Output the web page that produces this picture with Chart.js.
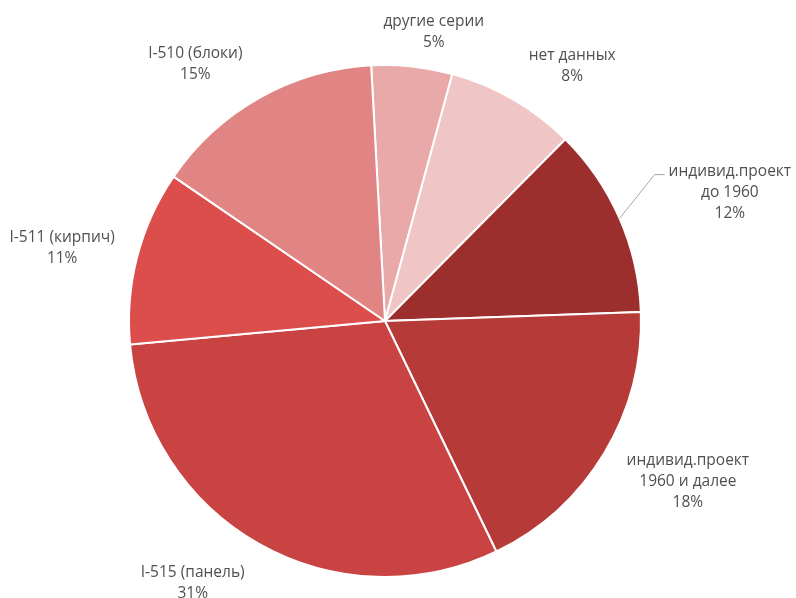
<!DOCTYPE html>
<html>
<head>
<meta charset="utf-8">
<script src="https://cdn.jsdelivr.net/npm/chart.js@4"></script>
<style>
  html, body { margin: 0; padding: 0; background: #ffffff; }
  #wrap { width: 796px; height: 598px; }
</style>
</head>
<body>
<div id="wrap"><canvas id="c" width="796" height="598"></canvas></div>
<script>
// ---- data ----
const categories = [
  ["другие серии"],
  ["нет данных"],
  ["индивид.проект", "до 1960"],
  ["индивид.проект", "1960 и далее"],
  ["I-515 (панель)"],
  ["I-511 (кирпич)"],
  ["I-510 (блоки)"]
];
const shares = [5.1, 8.2, 12.0, 18.4, 30.7, 11.0, 14.6];

// ---- styling / layout ----
const sliceColors = ["#E8A9A8", "#EFC5C5", "#9C2F2D", "#B63B38", "#C84341", "#DC4E4C", "#E08583"];
// label placement relative to each slice's mid angle: [angle offset (deg), distance from centre (px)]
const labelPlacement = [[3.5, 293], [6.3, 316], [3.2, 368], [-3.1, 343], [6.8, 325], [-1.8, 331], [-7.1, 319]];
const leaderLines = [false, false, true, false, false, false, false];

const labelPlugin = {
  id: 'sliceLabels',
  afterDatasetsDraw(chart) {
    const ctx = chart.ctx;
    const meta = chart.getDatasetMeta(0);
    const data = chart.data.datasets[0].data;
    const total = data.reduce((a, b) => a + b, 0);
    ctx.save();
    ctx.font = '15.5px "Open Sans", "DejaVu Sans", sans-serif';
    ctx.fillStyle = '#505050';
    ctx.textAlign = 'center';
    ctx.textBaseline = 'middle';
    const lineH = 21;
    meta.data.forEach((arc, i) => {
      const p = arc.getProps(['x', 'y', 'startAngle', 'endAngle', 'outerRadius'], true);
      const mid = (p.startAngle + p.endAngle) / 2;
      const ang = mid + labelPlacement[i][0] * Math.PI / 180;
      const dist = labelPlacement[i][1];
      const cx = p.x + Math.cos(ang) * dist;
      const cy = p.y + Math.sin(ang) * dist;
      const lines = categories[i].concat([Math.round(data[i] / total * 100) + '%']);
      const top = cy - (lines.length - 1) * lineH / 2;
      lines.forEach((t, k) => ctx.fillText(t, cx, top + k * lineH));
      if (leaderLines[i]) {
        const w = ctx.measureText(lines[0]).width;
        const sx = p.x + Math.cos(mid) * p.outerRadius;
        const sy = p.y + Math.sin(mid) * p.outerRadius;
        const ex = cx - w / 2 - 4;
        const ey = top + 3;
        ctx.strokeStyle = '#A6A6A6';
        ctx.lineWidth = 1;
        ctx.beginPath();
        ctx.moveTo(sx, sy);
        ctx.lineTo(ex - 10, ey);
        ctx.lineTo(ex, ey);
        ctx.stroke();
      }
    });
    ctx.restore();
  }
};

new Chart(document.getElementById('c'), {
  type: 'pie',
  data: {
    labels: categories.map(c => c.join(' ')),
    datasets: [{
      data: shares,
      backgroundColor: sliceColors,
      borderColor: '#ffffff',
      borderWidth: 2
    }]
  },
  options: {
    responsive: false,
    animation: false,
    rotation: -3.1,
    layout: { padding: { left: 128, top: 64, right: 154, bottom: 20 } },
    plugins: { legend: { display: false }, tooltip: { enabled: false } }
  },
  plugins: [labelPlugin]
});
</script>
</body>
</html>
